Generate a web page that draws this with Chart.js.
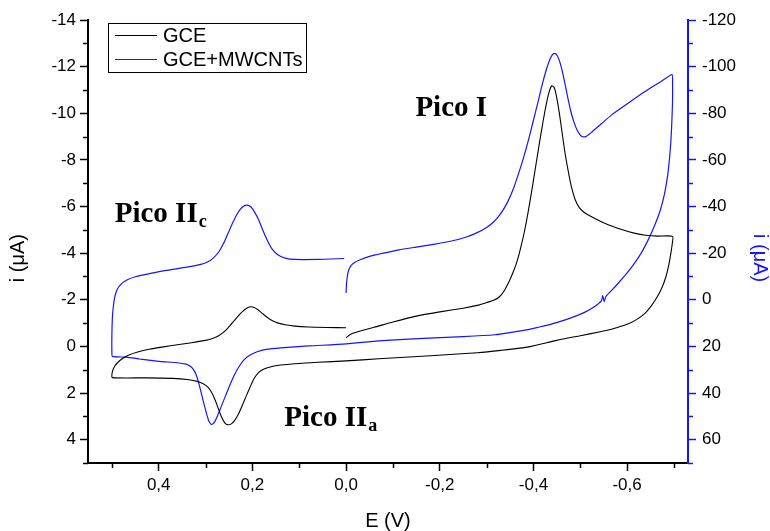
<!DOCTYPE html>
<html>
<head>
<meta charset="utf-8">
<script src="https://cdn.jsdelivr.net/npm/chart.js@4.4.1/dist/chart.umd.min.js"></script>
<style>
  html, body { margin: 0; padding: 0; background: #fff; }
  #wrap { width: 770px; height: 531px; }
</style>
</head>
<body>
<div id="wrap"><canvas id="c" width="770" height="531"></canvas></div>
<script>
// ---- Data ----
const seriesNames = ['GCE', 'GCE+MWCNTs'];

// GCE (left axis, µA), scan order starting at 0.0 V
const gceE = [0.000, -0.010, -0.030, -0.060, -0.100, -0.150, -0.200, -0.250, -0.280, -0.300, -0.315, -0.327, -0.338, -0.348, -0.357, -0.365, -0.373, -0.381, -0.389, -0.397, -0.405, -0.413, -0.421, -0.428, -0.434, -0.439, -0.444, -0.449, -0.455, -0.461, -0.467, -0.474, -0.481, -0.489, -0.498, -0.510, -0.525, -0.545, -0.567, -0.590, -0.615, -0.640, -0.665, -0.697,
  -0.696, -0.693, -0.689, -0.683, -0.675, -0.665, -0.652, -0.638, -0.620, -0.600, -0.570, -0.540, -0.500, -0.450, -0.390, -0.330, -0.280, -0.180, -0.070, 0.000, 0.060, 0.110, 0.140, 0.160, 0.175, 0.187, 0.197, 0.205, 0.213, 0.221, 0.229, 0.237, 0.245, 0.252, 0.259, 0.266, 0.273, 0.280, 0.287, 0.295, 0.305, 0.318, 0.335, 0.370, 0.430, 0.499,
  0.500, 0.498, 0.494, 0.488, 0.478, 0.465, 0.445, 0.420, 0.390, 0.360, 0.330, 0.300, 0.285, 0.272, 0.262, 0.252, 0.242, 0.232, 0.222, 0.213, 0.204, 0.196, 0.188, 0.178, 0.168, 0.157, 0.145, 0.130, 0.110, 0.080, 0.040, 0.000];
const gceI = [-0.37, -0.52, -0.66, -0.82, -1.05, -1.30, -1.48, -1.64, -1.76, -1.88, -1.98, -2.12, -2.40, -2.78, -3.20, -3.65, -4.25, -4.95, -5.80, -6.75, -7.75, -8.75, -9.70, -10.45, -10.95, -11.18, -11.12, -10.75, -10.05, -9.20, -8.35, -7.55, -6.85, -6.30, -5.95, -5.72, -5.55, -5.35, -5.16, -5.00, -4.86, -4.77, -4.73, -4.72,
  -4.35, -3.95, -3.50, -3.00, -2.55, -2.15, -1.75, -1.42, -1.15, -0.95, -0.76, -0.62, -0.46, -0.26, 0.02, 0.17, 0.27, 0.40, 0.53, 0.62, 0.68, 0.74, 0.80, 0.87, 0.97, 1.12, 1.40, 1.75, 2.12, 2.50, 2.87, 3.15, 3.32, 3.36, 3.28, 3.02, 2.65, 2.28, 1.98, 1.75, 1.60, 1.50, 1.43, 1.37, 1.35, 1.34,
  1.22, 1.02, 0.85, 0.70, 0.53, 0.38, 0.24, 0.12, 0.02, -0.07, -0.16, -0.26, -0.34, -0.46, -0.60, -0.80, -1.03, -1.27, -1.48, -1.63, -1.70, -1.67, -1.57, -1.40, -1.24, -1.10, -1.00, -0.93, -0.87, -0.83, -0.81, -0.80];

// GCE+MWCNTs (right axis, µA), scan order starting at 0.0 V
const mwE = [0.000, -0.001, -0.003, -0.006, -0.011, -0.018, -0.030, -0.050, -0.080, -0.113, -0.150, -0.190, -0.225, -0.255, -0.280, -0.300, -0.317, -0.332, -0.345, -0.357, -0.368, -0.379, -0.390, -0.400, -0.410, -0.419, -0.428, -0.436, -0.443, -0.449, -0.455, -0.461, -0.467, -0.473, -0.479, -0.486, -0.494, -0.503, -0.512, -0.525, -0.545, -0.567, -0.600, -0.638, -0.670, -0.696,
  -0.697, -0.697, -0.695, -0.692, -0.687, -0.680, -0.671, -0.660, -0.645, -0.630, -0.616, -0.600, -0.582, -0.566, -0.555, -0.551, -0.548, -0.545, -0.530, -0.510, -0.490, -0.468, -0.440, -0.410, -0.389, -0.350, -0.318, -0.250, -0.177, -0.070, 0.000, 0.080, 0.140, 0.171, 0.190, 0.206, 0.218, 0.228, 0.238, 0.248, 0.257, 0.266, 0.274, 0.281, 0.287, 0.293, 0.299, 0.305, 0.311, 0.317, 0.323, 0.331, 0.342, 0.360, 0.400, 0.440, 0.470, 0.499,
  0.500, 0.500, 0.499, 0.497, 0.494, 0.489, 0.480, 0.467, 0.450, 0.420, 0.384, 0.340, 0.310, 0.295, 0.283, 0.272, 0.262, 0.252, 0.242, 0.232, 0.222, 0.212, 0.203, 0.195, 0.186, 0.177, 0.167, 0.157, 0.145, 0.130, 0.110, 0.060, 0.004];
const mwI = [-2.9, -7.0, -10.5, -13.0, -14.8, -16.0, -17.2, -18.6, -20.0, -21.4, -22.6, -23.9, -25.2, -26.8, -28.8, -31.0, -33.8, -37.5, -42.0, -47.5, -54.0, -61.0, -69.0, -77.0, -85.0, -92.5, -99.0, -103.5, -105.6, -105.3, -102.8, -98.5, -93.0, -87.0, -81.5, -76.5, -72.5, -70.0, -70.0, -72.0, -75.5, -79.3, -84.0, -89.3, -93.3, -96.6,
  -93.0, -85.0, -74.0, -64.0, -54.0, -45.5, -38.5, -32.5, -25.7, -20.0, -15.7, -11.5, -7.3, -3.8, -1.5, 0.8, -1.8, 0.5, 3.0, 5.3, 7.0, 8.6, 10.3, 11.8, 12.8, 14.1, 15.0, 15.8, 16.4, 17.6, 18.9, 19.8, 20.6, 21.3, 22.3, 23.8, 25.8, 28.5, 32.0, 36.5, 41.0, 45.5, 49.5, 52.5, 53.5, 52.0, 48.0, 43.5, 38.5, 34.0, 30.8, 28.7, 27.6, 27.0, 26.4, 25.4, 24.6, 24.3,
  22.7, 15.0, 8.0, 3.0, -1.0, -4.3, -6.8, -8.6, -9.9, -11.2, -12.6, -14.0, -15.2, -16.3, -18.0, -20.5, -24.0, -28.5, -33.0, -37.0, -39.7, -40.6, -39.8, -37.5, -34.0, -29.5, -25.0, -21.5, -19.2, -17.9, -17.3, -17.3, -17.7];

// Tick values
const xTicks = [0.4, 0.2, 0.0, -0.2, -0.4, -0.6];
const xMinor = [0.5, 0.3, 0.1, -0.1, -0.3, -0.5, -0.7];
const leftTicks = [-14, -12, -10, -8, -6, -4, -2, 0, 2, 4];
const leftMinor = [-13, -11, -9, -7, -5, -3, -1, 1, 3, 5];
const rightTicks = [-120, -100, -80, -60, -40, -20, 0, 20, 40, 60];
const rightMinor = [-110, -90, -70, -50, -30, -10, 10, 30, 50, 70];

// Annotation texts
const notes = [
  { text: 'Pico I', sub: '', e: -0.148, i: -9.88 },
  { text: 'Pico II', sub: 'c', e: 0.494, i: -5.33 },
  { text: 'Pico II', sub: 'a', e: 0.132, i: 3.42 }
];

const toPts = (xs, ys) => xs.map((x, k) => ({ x: x, y: ys[k] }));
const fmtComma = v => (Math.abs(v) < 1e-9 ? '0,0' : v.toFixed(1).replace('.', ','));

const BLUE = '#1414ff';
const SANS = '"Liberation Sans", Arial, sans-serif';

const extras = {
  id: 'extras',
  afterDraw(chart) {
    const ctx = chart.ctx;
    const xs = chart.scales.x, yl = chart.scales.yL, yr = chart.scales.yR;
    ctx.save();
    // minor ticks
    ctx.lineWidth = 1.5;
    ctx.strokeStyle = '#000';
    xMinor.forEach(v => {
      const px = Math.round(xs.getPixelForValue(v)) + 0.5;
      ctx.beginPath(); ctx.moveTo(px, xs.top); ctx.lineTo(px, xs.top + 5); ctx.stroke();
    });
    leftMinor.forEach(v => {
      const py = Math.round(yl.getPixelForValue(v)) + 0.5;
      ctx.beginPath(); ctx.moveTo(yl.right, py); ctx.lineTo(yl.right - 5, py); ctx.stroke();
    });
    ctx.strokeStyle = BLUE;
    rightMinor.forEach(v => {
      const py = Math.round(yr.getPixelForValue(v)) + 0.5;
      ctx.beginPath(); ctx.moveTo(yr.left, py); ctx.lineTo(yr.left + 5, py); ctx.stroke();
    });

    // legend box
    const a = chart.chartArea;
    const bx = a.left + 20, by = a.top + 3, bw = 198, bh = 49;
    ctx.lineWidth = 1;
    ctx.strokeStyle = '#000';
    ctx.strokeRect(bx + 0.5, by + 0.5, bw, bh);
    ctx.font = '20px ' + SANS;
    ctx.textBaseline = 'middle';
    ctx.textAlign = 'left';
    chart.data.datasets.forEach((ds, k) => {
      const ly = by + 12.5 + k * 24;
      ctx.strokeStyle = ds.borderColor;
      ctx.lineWidth = 1.2;
      ctx.beginPath(); ctx.moveTo(bx + 7, ly); ctx.lineTo(bx + 49, ly); ctx.stroke();
      ctx.fillStyle = '#000';
      ctx.fillText(ds.label, bx + 55, ly + 1);
    });

    // annotations
    ctx.fillStyle = '#000';
    ctx.textBaseline = 'alphabetic';
    notes.forEach(n => {
      const px = xs.getPixelForValue(n.e), py = yl.getPixelForValue(n.i);
      ctx.font = 'bold 29px "Liberation Serif", "Times New Roman", serif';
      ctx.fillText(n.text, px, py);
      if (n.sub) {
        const w = ctx.measureText(n.text).width;
        ctx.font = 'bold 18px "Liberation Serif", "Times New Roman", serif';
        ctx.fillText(n.sub, px + w + 1, py + 5);
      }
    });
    ctx.restore();
  }
};

new Chart(document.getElementById('c'), {
  type: 'scatter',
  data: {
    datasets: [
      { label: seriesNames[0], data: toPts(gceE, gceI), yAxisID: 'yL', showLine: true,
        borderColor: '#000', borderWidth: 1.1, pointRadius: 0, tension: 0.2, fill: false },
      { label: seriesNames[1], data: toPts(mwE, mwI), yAxisID: 'yR', showLine: true,
        borderColor: BLUE, borderWidth: 1.2, pointRadius: 0, tension: 0.2, fill: false }
    ]
  },
  options: {
    responsive: false,
    animation: false,
    layout: { padding: { left: 8, right: 0, top: 20, bottom: 0 } },
    plugins: { legend: { display: false }, tooltip: { enabled: false } },
    scales: {
      x: {
        type: 'linear', position: 'bottom', reverse: true, min: -0.73, max: 0.551,
        afterBuildTicks: s => { s.ticks = xTicks.map(v => ({ value: v })); },
        afterFit: s => { s.height = 68; },
        ticks: { callback: v => fmtComma(v), color: '#000', font: { family: SANS, size: 17 }, padding: 4, maxRotation: 0, autoSkip: false },
        grid: { display: true, drawOnChartArea: false, drawTicks: true, tickLength: 8, tickColor: '#000', tickWidth: 1.5 },
        border: { display: true, color: '#000', width: 2 },
        title: { display: true, text: 'E (V)', color: '#000', font: { family: SANS, size: 20, lineHeight: 1 }, padding: 0 }
      },
      yL: {
        type: 'linear', position: 'left', reverse: true, min: -14, max: 5,
        afterBuildTicks: s => { s.ticks = leftTicks.map(v => ({ value: v })); },
        afterFit: s => { s.width = 80; },
        ticks: { callback: v => String(v), color: '#000', font: { family: SANS, size: 17 }, padding: 4, autoSkip: false },
        grid: { display: true, drawOnChartArea: false, drawTicks: true, tickLength: 8, tickColor: '#000', tickWidth: 1.5 },
        border: { display: true, color: '#000', width: 2 },
        title: { display: true, text: 'i (\u03bcA)      ', color: '#000', font: { family: SANS, size: 20, lineHeight: 1 }, padding: 0 }
      },
      yR: {
        type: 'linear', position: 'right', reverse: true, min: -120, max: 70,
        afterBuildTicks: s => { s.ticks = rightTicks.map(v => ({ value: v })); },
        afterFit: s => { s.width = 82; },
        ticks: { callback: v => String(v), color: '#000', font: { family: SANS, size: 17 }, padding: 6, autoSkip: false },
        grid: { display: true, drawOnChartArea: false, drawTicks: true, tickLength: 8, tickColor: BLUE, tickWidth: 1.5 },
        border: { display: true, color: BLUE, width: 2 },
        title: { display: true, text: '      i (\u03bcA)', color: BLUE, font: { family: SANS, size: 20, lineHeight: 1 }, padding: 0 }
      }
    }
  },
  plugins: [extras]
});
</script>
</body>
</html>
